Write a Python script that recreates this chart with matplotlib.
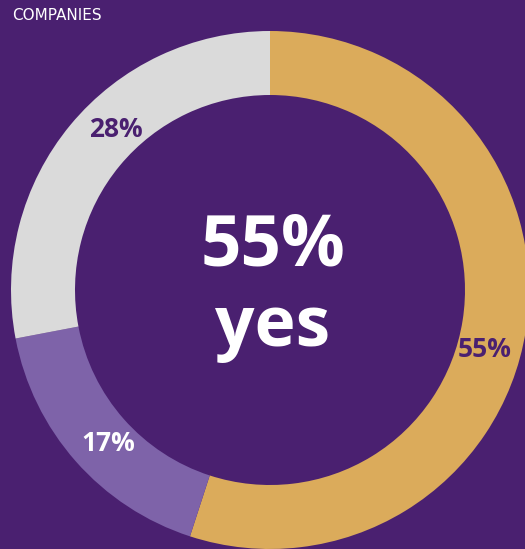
import numpy as np
import matplotlib
matplotlib.use("Agg")
import matplotlib.pyplot as plt

# Share of companies answering each option
labels = ["yes", "partly", "no"]
shares = [55, 17, 28]
colors = ["#dbab5b", "#7e63a9", "#dadada"]
label_colors = ["#4a2070", "#ffffff", "#4a2070"]
headline = "COMPANIES"

BG = "#4a2070"
FONT = "Open Sans"

fig = plt.figure(figsize=(5.25, 5.49), dpi=100, facecolor=BG)
ax = fig.add_axes([0, 0, 1, 1])
ax.set_facecolor(BG)

# pixel-style coordinates: 525 x 549, donut centre at (270, 290 from top)
cx, cy = 270, 549 - 290
R_out, ring = 259, 64

wedges, _ = ax.pie(shares, colors=colors, startangle=90, counterclock=False,
                   radius=R_out, center=(cx, cy),
                   wedgeprops=dict(width=ring, linewidth=0))

# percentage labels inside the ring, near each wedge's mid angle
nudge = [6.5, -2.0, 6.5]   # degrees, clockwise
total = sum(shares)
start = 0.0
for val, tc, dn in zip(shares, label_colors, nudge):
    mid = np.deg2rad((start + val / 2) / total * 360 + dn)
    r = R_out - ring / 2 - 4
    x = cx + r * np.sin(mid)
    y = cy + r * np.cos(mid)
    ax.text(x, y, f"{val}%", ha="center", va="center", color=tc,
            fontsize=19, fontweight="bold", family=FONT)
    start += val

# big centre callout
ax.text(cx + 3, 549 - 246, f"{shares[0]}%", ha="center", va="center",
        color="white", fontsize=51, fontweight="bold", family=FONT)
ax.text(cx + 3, 549 - 328, labels[0], ha="center", va="center",
        color="white", fontsize=50, fontweight="bold", family=FONT)

ax.text(12, 549 - 16, headline, ha="left", va="center", color="white",
        fontsize=11, family="DejaVu Sans")

ax.set_xlim(0, 525)
ax.set_ylim(0, 549)
ax.set_aspect("equal")
ax.axis("off")

fig.savefig("out.png", dpi=100, facecolor=BG)
